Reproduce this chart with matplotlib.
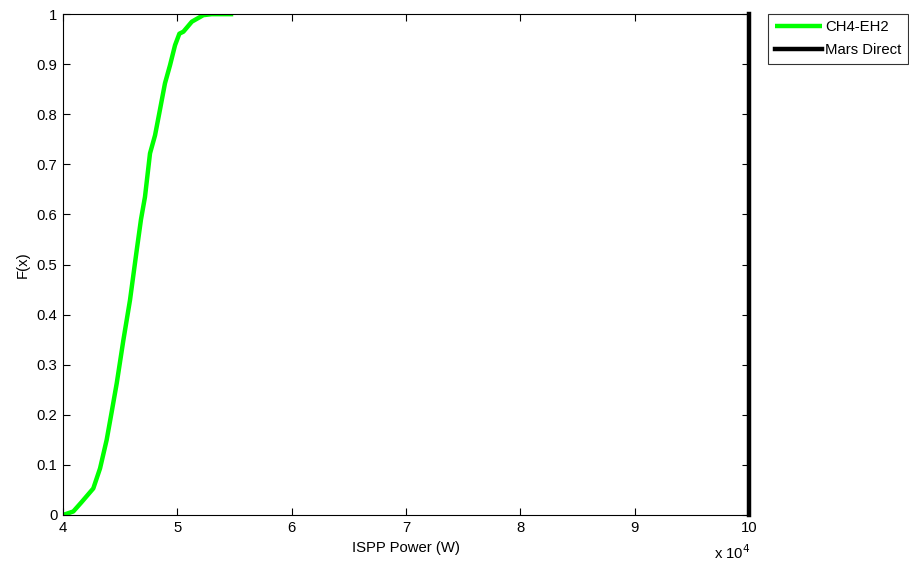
import matplotlib
matplotlib.use("Agg")
import matplotlib.pyplot as plt
from matplotlib.ticker import FuncFormatter, MultipleLocator

plt.rcParams['font.family'] = ['Liberation Sans', 'DejaVu Sans']

# CH4-EH2 empirical CDF (ISPP power in W)
ch4_power = [40000, 40900, 41600, 42650, 43240, 43820, 44260, 44700, 45280, 45860,
             46450, 46820, 47170, 47610, 48050, 48420, 48920, 49360, 49800, 50180,
             50530, 51270, 52270, 53000, 54890]
ch4_cdf = [0.0, 0.007, 0.025, 0.053, 0.093, 0.15, 0.206, 0.263, 0.349, 0.429,
           0.529, 0.59, 0.635, 0.722, 0.758, 0.802, 0.862, 0.898, 0.938, 0.961,
           0.965, 0.985, 0.998, 1.0, 1.0]

# Mars Direct (single value)
mars_power = [100000, 100000]
mars_cdf = [0.0, 1.0]

FS = 10.7

fig = plt.figure(figsize=(9.09, 5.64), dpi=100)
ax = fig.add_axes([0.0693, 0.0869, 0.7547, 0.888])

ax.plot(ch4_power, ch4_cdf, color='#00ff00', lw=3.2, label='CH4-EH2', solid_capstyle='butt')
ax.plot(mars_power, mars_cdf, color='black', lw=3.2, label='Mars Direct', clip_on=False)

ax.set_xlim(40000, 100000)
ax.set_ylim(0, 1)
ax.xaxis.set_major_locator(MultipleLocator(10000))
ax.yaxis.set_major_locator(MultipleLocator(0.1))
ax.xaxis.set_major_formatter(FuncFormatter(lambda v, p: f"{v/1e4:g}"))
ax.yaxis.set_major_formatter(FuncFormatter(lambda v, p: f"{v:g}"))
ax.tick_params(direction='in', top=True, right=True, length=5, width=0.8,
               labelsize=FS, colors='black', pad=4)
for s in ax.spines.values():
    s.set_linewidth(0.8)

ax.set_xlabel('ISPP Power (W)', fontsize=FS, labelpad=5)
ax.set_ylabel('F(x)', fontsize=FS, labelpad=5)
fig.text(0.786, 0.004, r'x 10$^4$', fontsize=FS, ha='left', va='bottom')

leg = ax.legend(loc='upper left', bbox_to_anchor=(0.845, 0.976), bbox_transform=fig.transFigure,
                fontsize=FS, frameon=True, fancybox=False, edgecolor='black',
                handlelength=3.2, handletextpad=0.2, borderpad=0.45, labelspacing=0.58,
                borderaxespad=0)
leg.get_frame().set_linewidth(0.8)

fig.savefig('out.png', dpi=100)
